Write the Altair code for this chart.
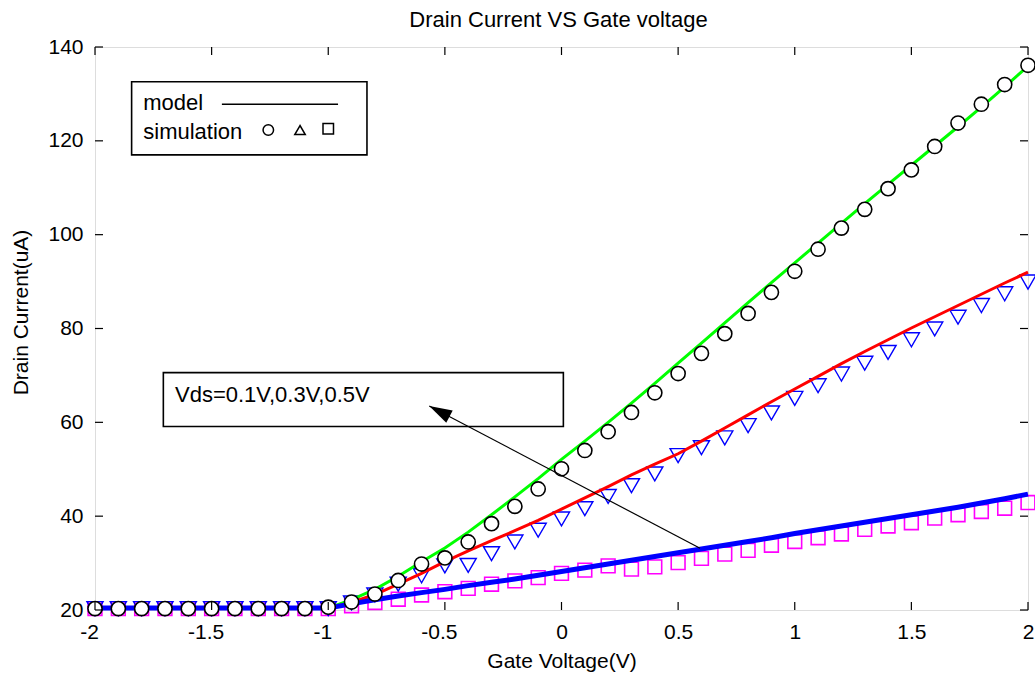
import altair as alt
import pandas as pd

# ---------------- data ----------------
GATE_V = [-2.0, -1.9, -1.8, -1.7, -1.6, -1.5, -1.4, -1.3, -1.2, -1.1,
          -1.0, -0.9, -0.8, -0.7, -0.6, -0.5, -0.4, -0.3, -0.2, -0.1,
          0.0, 0.1, 0.2, 0.3, 0.4, 0.5, 0.6, 0.7, 0.8, 0.9,
          1.0, 1.1, 1.2, 1.3, 1.4, 1.5, 1.6, 1.7, 1.8, 1.9, 2.0]

# simulation (markers)
SIM_05 = [20.3, 20.3, 20.3, 20.3, 20.3, 20.3, 20.3, 20.3, 20.3, 20.3,
          20.6, 21.7, 23.4, 26.3, 29.8, 31.1, 34.5, 38.4, 42.1, 45.8,
          50.1, 54.0, 58.0, 62.1, 66.3, 70.4, 74.7, 78.9, 83.2, 87.7,
          92.2, 96.9, 101.4, 105.4, 109.8, 113.8, 118.8, 123.8, 127.8, 132.0, 136.1]
SIM_03 = [20.3, 20.3, 20.3, 20.3, 20.3, 20.3, 20.3, 20.3, 20.3, 20.3,
          20.3, 21.5, 23.2, 25.5, 27.3, 29.4, 29.5, 32.0, 34.5, 37.0,
          39.4, 41.6, 44.2, 46.5, 49.0, 52.9, 54.6, 56.7, 59.3, 62.0,
          65.1, 67.8, 70.3, 72.6, 74.9, 77.6, 79.9, 82.4, 84.9, 87.4, 89.9]
SIM_01 = [20.3, 20.3, 20.3, 20.3, 20.3, 20.3, 20.3, 20.3, 20.3, 20.3,
          20.3, 20.9, 21.6, 22.3, 23.2, 23.9, 24.6, 25.5, 26.2, 26.9,
          27.8, 28.5, 29.4, 28.7, 29.2, 30.1, 31.0, 31.9, 32.7, 33.8,
          34.6, 35.4, 36.2, 37.2, 37.9, 38.6, 39.6, 40.3, 41.0, 41.7, 42.9]

# model (lines)
MODEL_05 = [20.4, 20.4, 20.4, 20.4, 20.4, 20.4, 20.4, 20.4, 20.4, 20.4,
            20.4, 22.2, 24.4, 27.2, 30.3, 33.2, 36.6, 40.3, 44.1, 48.0,
            52.1, 56.0, 60.0, 64.1, 68.3, 72.6, 76.9, 81.2, 85.5, 89.8,
            94.0, 98.2, 102.4, 106.6, 110.7, 114.8, 118.9, 123.0, 127.2, 131.5, 135.9]
MODEL_03 = [20.4, 20.4, 20.4, 20.4, 20.4, 20.4, 20.4, 20.4, 20.4, 20.4,
            20.4, 21.6, 23.3, 25.5, 27.8, 30.3, 32.6, 34.8, 36.9, 39.1,
            41.5, 43.9, 46.3, 48.8, 51.1, 53.3, 56.0, 58.8, 61.6, 64.4,
            67.1, 69.8, 72.5, 75.1, 77.6, 80.1, 82.5, 84.9, 87.3, 89.7, 92.0]
MODEL_01 = [20.4, 20.4, 20.4, 20.4, 20.4, 20.4, 20.4, 20.4, 20.4, 20.4,
            20.4, 21.3, 22.2, 23.0, 23.7, 24.4, 25.2, 25.9, 26.6, 27.4,
            28.2, 29.0, 29.8, 30.6, 31.4, 32.2, 33.0, 33.8, 34.6, 35.4,
            36.3, 37.1, 37.9, 38.7, 39.5, 40.3, 41.1, 41.9, 42.8, 43.7, 44.7]

X_TICKS = [-2, -1.5, -1, -0.5, 0, 0.5, 1, 1.5, 2]
Y_TICKS = [20, 40, 60, 80, 100, 120, 140]

TITLE = "Drain Current VS Gate voltage"
X_TITLE = "Gate Voltage(V)"
Y_TITLE = "Drain Current(uA)"
ANNOT_TEXT = "Vds=0.1V,0.3V,0.5V"
LEGEND_TEXT = ["model", "simulation"]

# annotation geometry in data units
LEGEND_BOX = {"x": -1.843, "x2": -0.834, "y": 117.0, "y2": 132.6}
ANNOT_BOX = {"x": -1.707, "x2": 0.008, "y": 59.1, "y2": 70.6}
ARROW = {"x": 0.594, "y": 33.15, "x2": -0.567, "y2": 63.5}

FONT = "Liberation Sans"
W, H = 933, 563

xs = alt.Scale(domain=[-2, 2], nice=False, zero=False)
ys = alt.Scale(domain=[20, 140], nice=False, zero=False)

x_axis = alt.Axis(values=X_TICKS, labelExpr="toString(datum.value)", ticks=False,
                  domain=False, grid=False, labelFont=FONT, labelFontSize=21,
                  labelColor="black", labelPadding=11, labelFlush=False,
                  labelOffset={"condition": {"test": "datum.value < 0", "value": -6}, "value": 0},
                  title=X_TITLE, titleFont=FONT, titleFontSize=21,
                  titleFontWeight="normal", titleColor="black", titleY=40,
                  titleBaseline="top")
y_axis = alt.Axis(values=Y_TICKS, ticks=False, domain=False, grid=False,
                  labelFont=FONT, labelFontSize=21, labelColor="black",
                  labelPadding=12, labelFlush=False, title=Y_TITLE, titleFont=FONT,
                  titleFontSize=21, titleFontWeight="normal", titleColor="black",
                  titleAngle=270, titleX=-74, titleY=265, titleBaseline="middle",
                  titleAlign="center")


def X(field="x"):
    return alt.X(f"{field}:Q", scale=xs, axis=x_axis)


def Y(field="y"):
    return alt.Y(f"{field}:Q", scale=ys, axis=y_axis)


def series(vals):
    return pd.DataFrame({"x": GATE_V, "y": vals})


sq = alt.Chart(series(SIM_01)).mark_point(shape="square", size=190, filled=False,
                                           color="#ff00ff", strokeWidth=1.6, opacity=1).encode(x=X(), y=Y())
tri = alt.Chart(series(SIM_03)).mark_point(shape="triangle-down", size=260, filled=False,
                                            color="#0000ff", strokeWidth=1.4, opacity=1).encode(x=X(), y=Y())
l05 = alt.Chart(series(MODEL_05)).mark_line(color="#00ff00", strokeWidth=3).encode(x=X(), y=Y())
l03 = alt.Chart(series(MODEL_03)).mark_line(color="#ff0000", strokeWidth=3).encode(x=X(), y=Y())
l01 = alt.Chart(series(MODEL_01)).mark_line(color="#0000ff", strokeWidth=5).encode(x=X(), y=Y())
circ = alt.Chart(series(SIM_05)).mark_point(shape="circle", size=200, filled=False,
                                             color="black", fill="white", fillOpacity=1,
                                             strokeWidth=1.6, opacity=1).encode(x=X(), y=Y())

# inward ticks on four sides
xt = pd.DataFrame({"t": X_TICKS})
yt = pd.DataFrame({"t": Y_TICKS})
tick_b = alt.Chart(xt).mark_rule(color="black", strokeWidth=1.2).encode(
    x=alt.X("t:Q", scale=xs, axis=x_axis), y=alt.value(H), y2=alt.value(H - 8))
tick_t = alt.Chart(xt).mark_rule(color="black", strokeWidth=1.2).encode(
    x=alt.X("t:Q", scale=xs, axis=x_axis), y=alt.value(0), y2=alt.value(8))
tick_l = alt.Chart(yt).mark_rule(color="black", strokeWidth=1.2).encode(
    y=alt.Y("t:Q", scale=ys, axis=y_axis), x=alt.value(0), x2=alt.value(8))
tick_r = alt.Chart(yt).mark_rule(color="black", strokeWidth=1.2).encode(
    y=alt.Y("t:Q", scale=ys, axis=y_axis), x=alt.value(W), x2=alt.value(W - 8))

# chart title (drawn as text above the plot)
title = alt.Chart(pd.DataFrame({"t": [TITLE]})).mark_text(
    align="center", baseline="middle", font=FONT, fontSize=22, color="black").encode(
    x=alt.value(W / 2 - 3), y=alt.value(-27), text="t:N")

# legend box
lb = alt.Chart(pd.DataFrame([LEGEND_BOX])).mark_rect(fill="white", stroke="black",
                                                     strokeWidth=1.6).encode(
    x=alt.X("x:Q", scale=xs, axis=x_axis), x2="x2:Q",
    y=alt.Y("y:Q", scale=ys, axis=y_axis), y2="y2:Q")
lt = alt.Chart(pd.DataFrame({"x": [-1.793, -1.793], "y": [128.0, 121.9],
                             "t": LEGEND_TEXT})).mark_text(
    align="left", baseline="middle", font=FONT, fontSize=22, color="black").encode(
    x=X(), y=Y(), text="t:N")
ll = alt.Chart(pd.DataFrame({"x": [-1.456], "x2": [-0.958], "y": [127.8]})).mark_rule(
    color="black", strokeWidth=1.3).encode(x=X(), x2="x2:Q", y=Y())
lsym = alt.Chart(pd.DataFrame({"x": [-1.257, -1.121, -1.0], "y": [122.3, 122.3, 122.6],
                               "s": ["circle", "triangle-up", "square"]})).mark_point(
    filled=False, color="black", size=110, strokeWidth=1.5, opacity=1).encode(
    x=X(), y=Y(),
    shape=alt.Shape("s:N", scale=alt.Scale(domain=["circle", "triangle-up", "square"],
                                           range=["circle", "triangle-up", "square"]),
                    legend=None))

# Vds annotation
ab = alt.Chart(pd.DataFrame([ANNOT_BOX])).mark_rect(fill="white", stroke="black",
                                                    strokeWidth=1.6).encode(
    x=alt.X("x:Q", scale=xs, axis=x_axis), x2="x2:Q",
    y=alt.Y("y:Q", scale=ys, axis=y_axis), y2="y2:Q")
at = alt.Chart(pd.DataFrame({"x": [-1.657], "y": [65.8], "t": [ANNOT_TEXT]})).mark_text(
    align="left", baseline="middle", font=FONT, fontSize=22, color="black").encode(
    x=X(), y=Y(), text="t:N")
arr = alt.Chart(pd.DataFrame([ARROW])).mark_rule(color="black", strokeWidth=1.2).encode(
    x=X(), y=Y(), x2="x2:Q", y2="y2:Q")
head = alt.Chart(pd.DataFrame({"x": [ARROW["x2"]], "y": [ARROW["y2"]]})).mark_point(
    shape="M0,0 L0.3,1 L-0.3,1 Z", size=2100, filled=True, color="black", opacity=1,
    angle=298).encode(x=X(), y=Y())

chart = alt.layer(
    ab, at, sq, tri, l05, l03, l01, circ, arr, head, lb, lt, ll, lsym,
    tick_b, tick_t, tick_l, tick_r, title
).properties(
    width=W, height=H,
    autosize=alt.AutoSizeParams(type="none"),
    padding={"left": 95, "top": 47, "right": 7, "bottom": 67},
).configure_view(stroke="black", strokeWidth=1.2).configure(background="white")

chart.save("out.html", embed_options={"renderer": "svg", "actions": False})
